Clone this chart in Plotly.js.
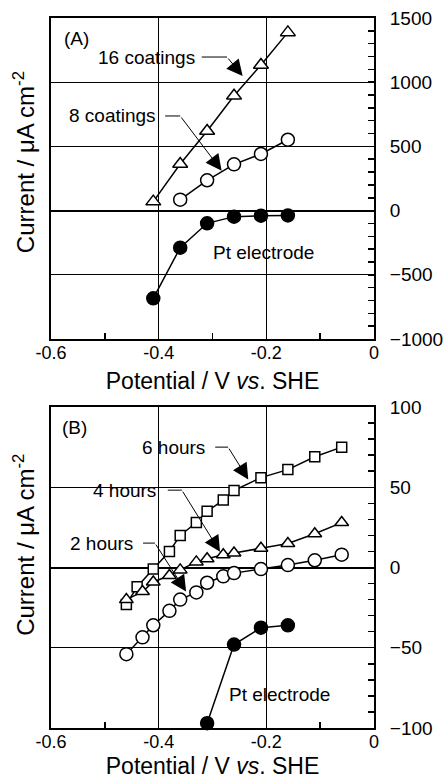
<!DOCTYPE html>
<html>
<head>
<meta charset="utf-8">
<script src="https://cdn.plot.ly/plotly-3.0.1.min.js"></script>
<style>html,body{margin:0;padding:0;background:#fff;}#chart{width:448px;height:779px;}</style>
</head>
<body>
<div id="chart"></div>
<script>
// ---- Panel A data ----
var coat16X = [-0.41, -0.36, -0.31, -0.26, -0.21, -0.16];
var coat16Y = [70, 363, 620, 895, 1134, 1388];
var coat8X = [-0.36, -0.31, -0.26, -0.21, -0.16];
var coat8Y = [85, 236, 360, 441, 552];
var ptAX = [-0.41, -0.36, -0.31, -0.26, -0.21, -0.16];
var ptAY = [-683, -289, -99, -47, -40, -38];

// ---- Panel B data ----
var h6X = [-0.46, -0.44, -0.41, -0.38, -0.36, -0.33, -0.31, -0.28, -0.26, -0.21, -0.16, -0.11, -0.06];
var h6Y = [-23, -12, -1, 10, 20, 28, 35, 42, 48, 56, 61, 69, 75];
var h4X = [-0.46, -0.43, -0.41, -0.38, -0.36, -0.33, -0.31, -0.28, -0.26, -0.21, -0.16, -0.11, -0.06];
var h4Y = [-20, -15, -9, -5, -1.5, 3.5, 5.5, 8, 9, 12, 15, 21, 28];
var h2X = [-0.46, -0.43, -0.41, -0.38, -0.36, -0.33, -0.31, -0.28, -0.26, -0.21, -0.16, -0.11, -0.06];
var h2Y = [-54, -43.5, -36, -27, -20, -15.5, -9.5, -5.5, -3.5, -1, 1.5, 4.5, 8];
var ptBX = [-0.31, -0.26, -0.21, -0.16];
var ptBY = [-97, -48, -37.5, -36];

// ---- tick labels ----
var xTickVals = [-0.6, -0.4, -0.2, 0];
var xTickText = ['-0.6', '-0.4', '-0.2', '0'];
var yATickVals = [-1000, -500, 0, 500, 1000, 1500];
var yATickText = ['\u22121000', '\u2212500', '0', '500', '1000', '1500'];
var yBTickVals = [-100, -50, 0, 50, 100];
var yBTickText = ['\u2212100', '\u221250', '0', '50', '100'];

var FONT = 'Liberation Sans, Arial, Helvetica, sans-serif';

function series(x, y, symbol, size, fill, xa, ya) {
  return {
    x: x, y: y, xaxis: xa, yaxis: ya, type: 'scatter', mode: 'lines+markers',
    cliponaxis: false,
    line: {color: 'black', width: 1.5},
    marker: {symbol: symbol, size: size, color: fill, line: {color: 'black', width: 1.5}},
    showlegend: false, hoverinfo: 'skip'
  };
}

var data = [
  series(coat16X, coat16Y, 'triangle-up', 13, 'white', 'x', 'y'),
  series(coat8X, coat8Y, 'circle', 13, 'white', 'x', 'y'),
  series(ptAX, ptAY, 'circle', 13, 'black', 'x', 'y'),
  series(h6X, h6Y, 'square', 10, 'white', 'x2', 'y2'),
  series(h4X, h4Y, 'triangle-up', 12, 'white', 'x2', 'y2'),
  series(h2X, h2Y, 'circle', 13, 'white', 'x2', 'y2'),
  series(ptBX, ptBY, 'circle', 13, 'black', 'x2', 'y2')
];

function xAxis(anchor) {
  return {
    anchor: anchor, domain: [0, 1], range: [-0.6, 0],
    showline: true, mirror: true, linecolor: 'black', linewidth: 2,
    ticks: 'inside', ticklen: 6, tickwidth: 1.5, tickcolor: 'black',
    tickmode: 'array', tickvals: xTickVals, ticktext: xTickText,
    tickfont: {family: FONT, size: 18, color: 'black'},
    ticklabelstandoff: -4,
    showgrid: true, gridcolor: 'black', gridwidth: 1, zeroline: false,
    minor: {dtick: 0.1, tick0: 0, ticks: 'inside', ticklen: 6, tickwidth: 1.5, tickcolor: 'black', showgrid: false},
    title: {text: 'Potential / V <i>vs</i>. SHE', font: {family: FONT, size: 23, color: 'black'}, standoff: 11},
    automargin: false, fixedrange: true
  };
}
function yAxis(anchor, domain, range, vals, text, minorStep) {
  return {
    anchor: anchor, domain: domain, range: range, side: 'right',
    showline: true, mirror: true, linecolor: 'black', linewidth: 2,
    ticks: 'inside', ticklen: 6, tickwidth: 1.5, tickcolor: 'black',
    tickmode: 'array', tickvals: vals, ticktext: text,
    tickfont: {family: FONT, size: 19, color: 'black'},
    ticklabelstandoff: 10,
    showgrid: true, gridcolor: 'black', gridwidth: 1,
    zeroline: true, zerolinecolor: 'black', zerolinewidth: 2,
    minor: {dtick: minorStep, tick0: 0, ticks: 'inside', ticklen: 6, tickwidth: 1.5, tickcolor: 'black', showgrid: false},
    automargin: false, fixedrange: true
  };
}

function label(text, x, y, xa, ya, anchor) {
  return {text: text, x: x, y: y, xref: xa, yref: ya, showarrow: false,
    xanchor: anchor || 'center', yanchor: 'middle',
    font: {family: FONT, size: 19, color: 'black'}};
}
function arrow(tx, ty, hx, hy, xa, ya) {
  return {text: '', x: hx, y: hy, ax: tx, ay: ty, xref: xa, yref: ya, axref: xa, ayref: ya,
    showarrow: true, arrowhead: 2, arrowsize: 3.2, arrowwidth: 1, arrowcolor: 'black', standoff: 0, startstandoff: 0};
}
function leader(x0, x1, y, xa, ya) {
  return {type: 'line', xref: xa, yref: ya, x0: x0, x1: x1, y0: y, y1: y, line: {color: 'black', width: 1}};
}

var annotations = [
  label('(A)', -0.552, 1344, 'x', 'y'),
  label('16 coatings', -0.329, 1196, 'x', 'y', 'right'),
  arrow(-0.273, 1196, -0.244, 1048, 'x', 'y'),
  label('8 coatings', -0.401, 737, 'x', 'y', 'right'),
  arrow(-0.360, 737, -0.283, 311, 'x', 'y'),
  label('Pt electrode', -0.205, -330, 'x', 'y'),

  label('(B)', -0.557, 87.4, 'x2', 'y2'),
  label('6 hours', -0.310, 75, 'x2', 'y2', 'right'),
  arrow(-0.271, 75, -0.2335, 54.8, 'x2', 'y2'),
  label('4 hours', -0.401, 48.2, 'x2', 'y2', 'right'),
  arrow(-0.357, 48.2, -0.286, 9.8, 'x2', 'y2'),
  label('2 hours', -0.444, 15.2, 'x2', 'y2', 'right'),
  arrow(-0.407, 15.2, -0.349, -15, 'x2', 'y2'),
  label('Pt electrode', -0.175, -79.3, 'x2', 'y2'),

  {text: 'Current / \u03bcA cm<sup>-2</sup>', xref: 'paper', yref: 'paper', x: -0.0836, y: 0.797,
   xanchor: 'center', yanchor: 'middle', textangle: -90, showarrow: false,
   font: {family: FONT, size: 24, color: 'black'}},
  {text: 'Current / \u03bcA cm<sup>-2</sup>', xref: 'paper', yref: 'paper', x: -0.0836, y: 0.258,
   xanchor: 'center', yanchor: 'middle', textangle: -90, showarrow: false,
   font: {family: FONT, size: 24, color: 'black'}}
];

var shapes = [
  leader(-0.320, -0.273, 1196, 'x', 'y'),
  leader(-0.388, -0.360, 737, 'x', 'y'),
  leader(-0.295, -0.271, 75, 'x2', 'y2'),
  leader(-0.383, -0.357, 48.2, 'x2', 'y2'),
  leader(-0.429, -0.407, 15.2, 'x2', 'y2')
];

var layout = {
  width: 448, height: 779,
  margin: {l: 51, r: 74, t: 18, b: 51, pad: 0},
  paper_bgcolor: 'white', plot_bgcolor: 'white',
  font: {family: FONT, color: 'black'},
  xaxis: xAxis('y'),
  yaxis: yAxis('x', [0.5479, 1], [-1000, 1500], yATickVals, yATickText, 100),
  xaxis2: xAxis('y2'),
  yaxis2: yAxis('x2', [0, 0.4521], [-100, 100], yBTickVals, yBTickText, 10),
  annotations: annotations,
  shapes: shapes,
  showlegend: false
};

Plotly.newPlot('chart', data, layout, {staticPlot: true, displayModeBar: false});
</script>
</body>
</html>
